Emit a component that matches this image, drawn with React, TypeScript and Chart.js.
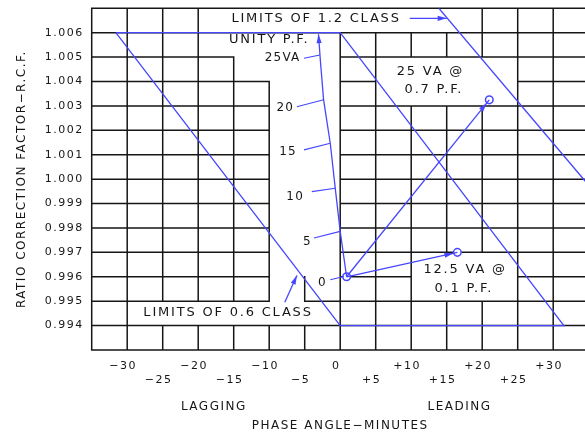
import React, { useEffect, useRef } from 'react';
import { Chart, registerables } from 'chart.js';

Chart.register(...registerables);

const BLUE = '#4646ff';
const INK = '#161616';
const FONT = '"DejaVu Sans", sans-serif';

// ---- axes ----
const xMin = -35;
const xMax = 35;
const yMin = 0.993;
const yMax = 1.007;
const xTickValues = [-30, -25, -20, -15, -10, -5, 0, 5, 10, 15, 20, 25, 30];
const xTickLabels = ['−30', '−25', '−20', '−15', '−10', '−5', '0', '+5', '+10', '+15', '+20', '+25', '+30'];
const yTickValues = [0.994, 0.995, 0.996, 0.997, 0.998, 0.999, 1.0, 1.001, 1.002, 1.003, 1.004, 1.005, 1.006];
const yTickLabels = ['0.994', '0.995', '0.996', '0.997', '0.998', '0.999', '1.000', '1.001', '1.002', '1.003', '1.004', '1.005', '1.006'];
const xTitle = 'PHASE ANGLE−MINUTES';
const yTitle = 'RATIO CORRECTION FACTOR−R.C.F.';
const axisNotes = ['LAGGING', 'LEADING'];
const axisNoteX = [-17.8, 16.8];

// ---- grid (drawn segments; gaps leave room for the labels) ----
const gridXValues = [-35, -30, -25, -20, -15, -10, -5, 0, 5, 10, 15, 20, 25, 30, 35];
const gridXSpans: number[][][] = [
  [[0.993, 1.007]],
  [[0.993, 1.007]],
  [[0.993, 0.994], [0.995, 1.007]],
  [[0.993, 0.994], [0.995, 1.007]],
  [[0.993, 0.994], [0.995, 1.005]],
  [[0.993, 0.994], [0.995, 1.004]],
  [[0.993, 0.994], [0.995, 0.996]],
  [[0.993, 1.006]],
  [[0.993, 1.006]],
  [[0.993, 1.003], [1.005, 1.006]],
  [[0.993, 0.995], [0.997, 1.003], [1.005, 1.006]],
  [[0.993, 0.995], [0.997, 1.003], [1.005, 1.007]],
  [[0.993, 1.007]],
  [[0.993, 1.007]],
  [[0.993, 1.007]],
];
const gridYValues = [0.993, 0.994, 0.995, 0.996, 0.997, 0.998, 0.999, 1.0, 1.001, 1.002, 1.003, 1.004, 1.005, 1.006, 1.007];
const gridYSpans: number[][][] = [
  [[-35, 35]],
  [[-35, 35]],
  [[-35, -10], [-5, 35]],
  [[-35, -10], [0, 10], [25, 35]],
  [[-35, -10], [0, 35]],
  [[-35, -10], [0, 35]],
  [[-35, -10], [0, 35]],
  [[-35, -10], [0, 35]],
  [[-35, -10], [0, 35]],
  [[-35, -10], [0, 35]],
  [[-35, -10], [0, 35]],
  [[-35, -10], [0, 5], [25, 35]],
  [[-35, -15], [0, 35]],
  [[-35, 35]],
  [[-35, 35]],
];

// ---- series ----
const limit06X = [-31.6, 0, 31.5, 0, -31.6];
const limit06Y = [1.006, 1.006, 0.994, 0.994, 1.006];
const limit12X = [13.9, 35];
const limit12Y = [1.007, 0.99975];
const unityX = [0.9, 0.0, -0.7, -1.4, -2.34, -2.8, -3.06];
const unityY = [0.996, 0.99786, 0.99963, 1.00147, 1.00325, 1.00488, 1.00594];
const va25X = [0.9, 21.0];
const va25Y = [0.996, 1.00325];
const va125X = [0.9, 16.5];
const va125Y = [0.996, 0.997];
const markerX = [0.9, 21.0, 16.5];
const markerY = [0.996, 1.00325, 0.997];
const vaTickStartX = [-5.1, -6.1, -5.1, -4.0, -3.7, -1.4];
const vaTickStartY = [1.00495, 1.00297, 1.0012, 0.99949, 0.99759, 0.99588];
const vaTickEndX = [-2.86, -2.34, -1.4, -0.7, 0.0, 0.5];
const vaTickEndY = [1.00509, 1.00325, 1.00147, 0.99963, 0.99786, 0.99601];
const vaLabels = ['25VA', '20', '15', '10', '5', '0'];
const vaLabelX = [-5.6, -6.5, -6.1, -5.1, -4.0, -1.9];
const vaLabelY = [1.00495, 1.00292, 1.00112, 0.99929, 0.99745, 0.99576];
const pointer12X = [9.8, 15.0];
const pointer12Y = [1.00659, 1.00659];
const pointer06X = [-7.8, -6.1];
const pointer06Y = [0.99496, 0.99605];

// ---- annotations ----
const noteTexts = ['LIMITS OF 1.2 CLASS', 'UNITY P.F.', '25 VA @', '0.7 P.F.', '12.5 VA @', '0.1 P.F.', 'LIMITS OF 0.6 CLASS'];
const noteX = [-3.4, -10.0, 12.7, 13.2, 17.6, 17.4, -15.8];
const noteY = [1.00659, 1.0057, 1.00441, 1.00366, 0.99629, 0.9955, 0.99452];

const pts = (xs: number[], ys: number[]) => xs.map((x, i) => ({ x, y: ys[i] }));

const tickSegments = () => {
  const out: any[] = [];
  vaTickStartX.forEach((_, i) => {
    out.push({ x: vaTickStartX[i], y: vaTickStartY[i] });
    out.push({ x: vaTickEndX[i], y: vaTickEndY[i] });
    out.push({ x: vaTickEndX[i], y: null });
  });
  return out;
};

const gridPlugin = {
  id: 'cadGrid',
  beforeDraw(chart: any) {
    chart.ctx.letterSpacing = '1.5px';
  },
  beforeDatasetsDraw(chart: any) {
    const { ctx, scales } = chart;
    const xs = scales.x;
    const ys = scales.y;
    ctx.save();
    ctx.strokeStyle = INK;
    ctx.lineWidth = 1.5;
    ctx.lineCap = 'square';
    ctx.beginPath();
    gridXValues.forEach((v, i) => {
      const px = xs.getPixelForValue(v);
      gridXSpans[i].forEach(([a, b]) => {
        ctx.moveTo(px, ys.getPixelForValue(a));
        ctx.lineTo(px, ys.getPixelForValue(b));
      });
    });
    gridYValues.forEach((v, i) => {
      const py = ys.getPixelForValue(v);
      gridYSpans[i].forEach(([a, b]) => {
        ctx.moveTo(xs.getPixelForValue(a), py);
        ctx.lineTo(xs.getPixelForValue(b), py);
      });
    });
    ctx.stroke();
    ctx.restore();
  },
  afterDatasetsDraw(chart: any) {
    const { ctx, scales, chartArea } = chart;
    const xs = scales.x;
    const ys = scales.y;
    // arrowheads
    chart.data.datasets.forEach((ds: any, di: number) => {
      if (!ds.arrow) return;
      const meta = chart.getDatasetMeta(di);
      const n = meta.data.length;
      const p1 = meta.data[n - 2];
      const p2 = meta.data[n - 1];
      const dx = p2.x - p1.x;
      const dy = p2.y - p1.y;
      const len = Math.hypot(dx, dy);
      const ux = dx / len;
      const uy = dy / len;
      const tipX = p2.x - ux * (ds.arrowInset || 0);
      const tipY = p2.y - uy * (ds.arrowInset || 0);
      const L = 9;
      const W = 2.6;
      ctx.save();
      ctx.fillStyle = BLUE;
      ctx.beginPath();
      ctx.moveTo(tipX, tipY);
      ctx.lineTo(tipX - ux * L - uy * W, tipY - uy * L + ux * W);
      ctx.lineTo(tipX - ux * L + uy * W, tipY - uy * L - ux * W);
      ctx.closePath();
      ctx.fill();
      ctx.restore();
    });
    ctx.save();
    ctx.fillStyle = INK;
    ctx.textBaseline = 'middle';
    ctx.letterSpacing = '1.8px';
    ctx.font = `13px ${FONT}`;
    ctx.textAlign = 'center';
    noteTexts.forEach((t, i) => {
      ctx.fillText(t, xs.getPixelForValue(noteX[i]), ys.getPixelForValue(noteY[i]));
    });
    ctx.font = `12px ${FONT}`;
    ctx.letterSpacing = '1.2px';
    ctx.textAlign = 'right';
    vaLabels.forEach((t, i) => {
      ctx.fillText(t, xs.getPixelForValue(vaLabelX[i]), ys.getPixelForValue(vaLabelY[i]));
    });
    ctx.font = `12px ${FONT}`;
    ctx.letterSpacing = '1.5px';
    ctx.textAlign = 'center';
    axisNotes.forEach((t, i) => {
      ctx.fillText(t, xs.getPixelForValue(axisNoteX[i]), chartArea.bottom + 57);
    });
    ctx.restore();
  },
};

export default function App() {
  const ref = useRef<HTMLCanvasElement | null>(null);
  useEffect(() => {
    if (!ref.current) return;
    const lineBase = { showLine: true, pointRadius: 0, borderColor: BLUE, borderWidth: 1.3, fill: false, tension: 0 };
    const chart = new Chart(ref.current, {
      type: 'scatter',
      data: {
        datasets: [
          { ...lineBase, label: 'Limits 0.6', data: pts(limit06X, limit06Y) },
          { ...lineBase, label: 'Limits 1.2', data: pts(limit12X, limit12Y) },
          { ...lineBase, label: 'Unity P.F.', data: pts(unityX, unityY), arrow: true, arrowInset: 0 },
          { ...lineBase, label: '25 VA 0.7 PF', data: pts(va25X, va25Y), arrow: true, arrowInset: 4 },
          { ...lineBase, label: '12.5 VA 0.1 PF', data: pts(va125X, va125Y), arrow: true, arrowInset: 4 },
          { ...lineBase, label: 'VA ticks', data: tickSegments(), spanGaps: false, borderWidth: 1.1 },
          { ...lineBase, label: 'pointer 1.2', data: pts(pointer12X, pointer12Y), arrow: true, arrowInset: 0 },
          { ...lineBase, label: 'pointer 0.6', data: pts(pointer06X, pointer06Y), arrow: true, arrowInset: 0 },
          {
            label: 'markers',
            data: pts(markerX, markerY),
            showLine: false,
            pointRadius: 3.8,
            pointBorderWidth: 1.5,
            pointBorderColor: BLUE,
            pointBackgroundColor: '#ffffff',
          },
        ] as any,
      },
      options: {
        animation: false,
        responsive: false,
        events: [],
        layout: { padding: { top: 8.3, right: 11.3, left: 0, bottom: 0 } },
        plugins: { legend: { display: false }, tooltip: { enabled: false } },
        scales: {
          x: {
            type: 'linear',
            min: xMin,
            max: xMax,
            afterBuildTicks: (s: any) => {
              s.ticks = xTickValues.map((v) => ({ value: v }));
            },
            afterFit: (s: any) => {
              s.height = 86;
              s.paddingLeft = 0;
              s.paddingRight = 0;
            },
            grid: { display: false, drawTicks: false },
            border: { display: false },
            ticks: {
              autoSkip: false,
              maxRotation: 0,
              padding: 9,
              labelOffset: -4,
              color: INK,
              font: { family: FONT, size: 11, lineHeight: 1.3 },
              callback: (_v: any, i: number) => (i % 2 === 0 ? [xTickLabels[i], ''] : ['', xTickLabels[i]]),
            },
            title: {
              display: true,
              text: xTitle,
              color: INK,
              font: { family: FONT, size: 12, lineHeight: 1.2 },
              padding: { top: 0, bottom: 3 },
            },
          },
          y: {
            type: 'linear',
            min: yMin,
            max: yMax,
            afterBuildTicks: (s: any) => {
              s.ticks = yTickValues.map((v) => ({ value: v }));
            },
            afterFit: (s: any) => {
              s.width = 91.7;
              s.paddingTop = 0;
              s.paddingBottom = 0;
            },
            grid: { display: false, drawTicks: false },
            border: { display: false },
            ticks: {
              autoSkip: false,
              padding: 8,
              color: INK,
              font: { family: FONT, size: 11 },
              callback: (_v: any, i: number) => yTickLabels[i],
            },
            title: {
              display: true,
              text: yTitle,
              color: INK,
              font: { family: FONT, size: 12, lineHeight: 1.2 },
              padding: { top: 15, bottom: 0 },
            },
          },
        },
      } as any,
      plugins: [gridPlugin as any],
    });
    return () => chart.destroy();
  }, []);

  return (
    <div style={{ position: 'absolute', left: 0, top: 0, width: 585, height: 436, overflow: 'hidden', background: '#ffffff' }}>
      <canvas ref={ref} width={600} height={436} style={{ display: 'block', width: 600, height: 436 }} />
    </div>
  );
}
